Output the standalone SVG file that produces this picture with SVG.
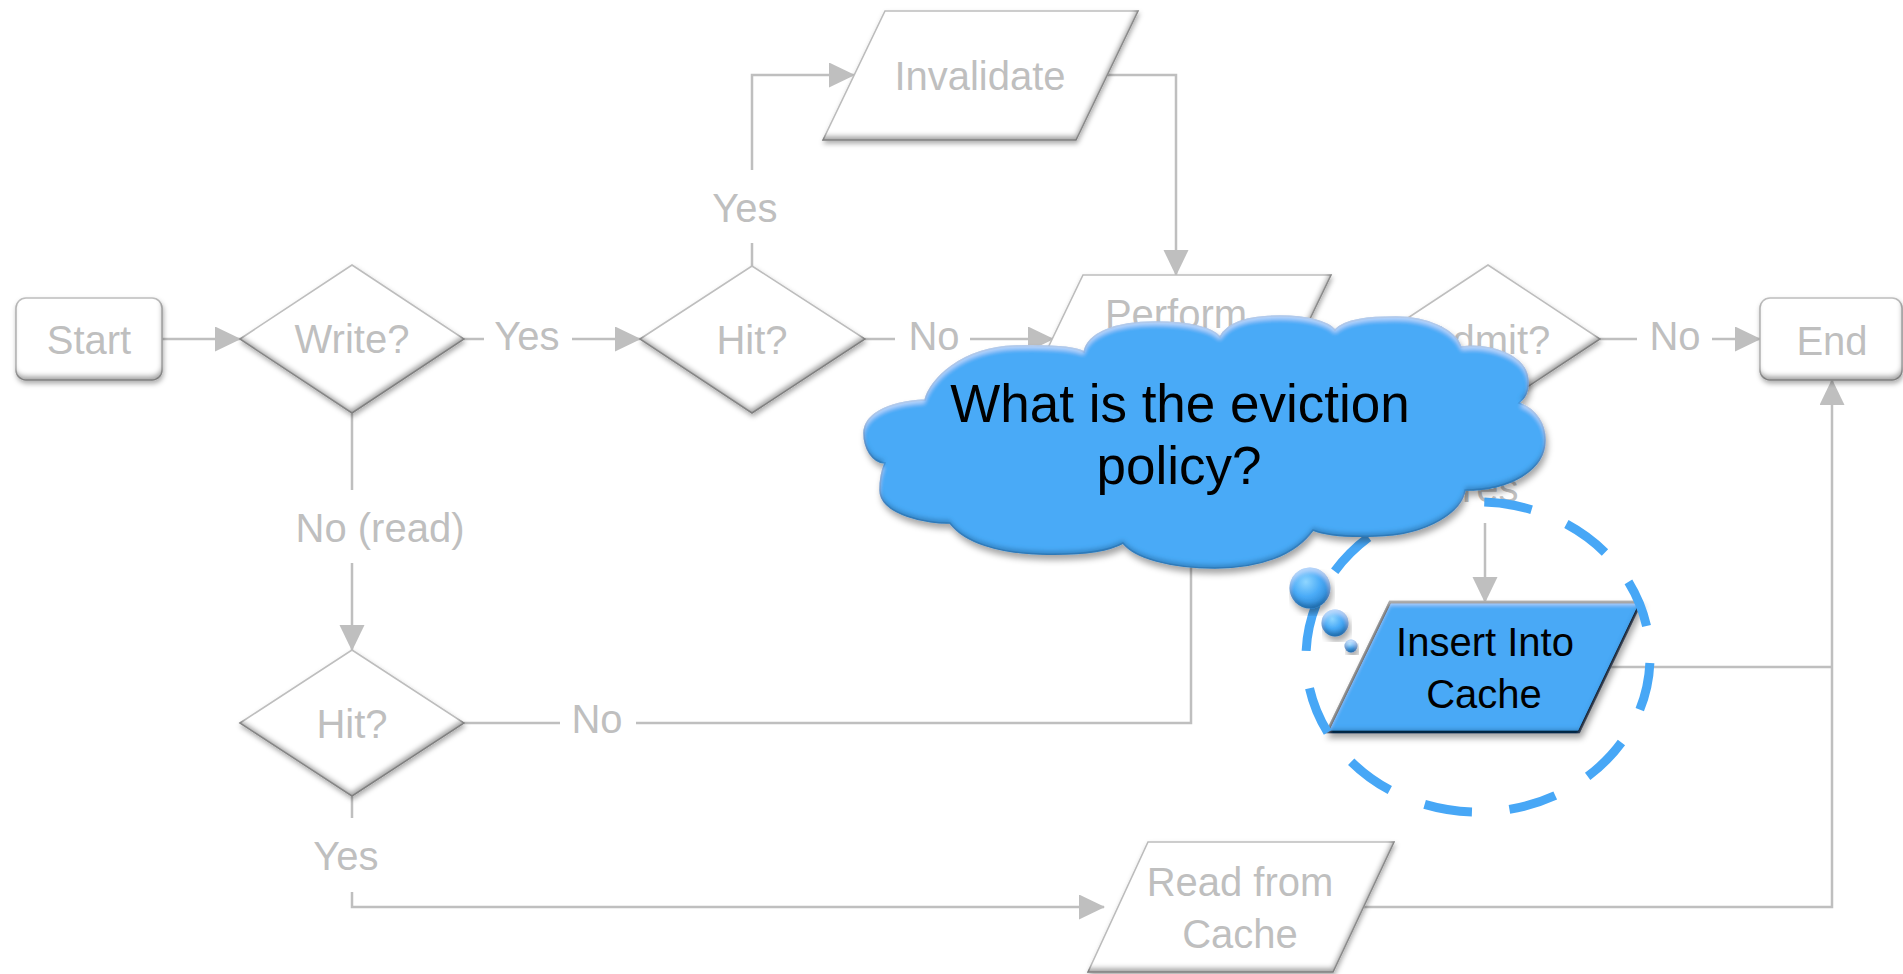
<svg xmlns="http://www.w3.org/2000/svg" width="1903" height="974" viewBox="0 0 1903 974">
  <defs>
    <style>
      .shape { fill: #ffffff; stroke: #BFBFBF; stroke-width: 1.5; filter: url(#grayBevel); }
      .lbl { font-family: "Liberation Sans", Arial, sans-serif; font-size: 40px; fill: #BFBFBF; text-anchor: middle; }
      .conn { fill: none; stroke: #BFBFBF; stroke-width: 2.5; }
      .dark { font-family: "Liberation Sans", Arial, sans-serif; fill: #000000; text-anchor: middle; }
    </style>
    <marker id="arr" markerUnits="userSpaceOnUse" markerWidth="26" markerHeight="26" refX="25" refY="12.5" orient="auto">
      <path d="M0,0 L26,12.5 L0,25 Z" fill="#BFBFBF"/>
    </marker>
    <!-- soft bevel for the grey flowchart shapes: dark inner rim at the bottom plus a drop shadow -->
    <filter id="grayBevel" x="-10%" y="-10%" width="125%" height="140%">
      <feGaussianBlur in="SourceAlpha" stdDeviation="2.5" result="blur"/>
      <feOffset in="blur" dx="-1" dy="-5" result="up"/>
      <feComposite in="SourceAlpha" in2="up" operator="out" result="rim"/>
      <feFlood flood-color="#000000" flood-opacity="0.62"/>
      <feComposite in2="rim" operator="in" result="shade"/>
      <feOffset in="blur" dx="1" dy="3" result="down"/>
      <feFlood flood-color="#000000" flood-opacity="0.32"/>
      <feComposite in2="down" operator="in" result="drop"/>
      <feMerge>
        <feMergeNode in="drop"/>
        <feMergeNode in="SourceGraphic"/>
        <feMergeNode in="shade"/>
      </feMerge>
    </filter>
    <!-- bevel for the blue shapes: light top rim, darker bottom rim, drop shadow -->
    <filter id="blueBevel" x="-5%" y="-8%" width="115%" height="125%">
      <feGaussianBlur in="SourceAlpha" stdDeviation="3" result="sb"/>
      <feOffset in="sb" dx="2" dy="5" result="so"/>
      <feFlood flood-color="#000000" flood-opacity="0.35"/>
      <feComposite in2="so" operator="in" result="shadow"/>
      <feGaussianBlur in="SourceAlpha" stdDeviation="2" result="hb"/>
      <feOffset in="hb" dx="0" dy="4" result="ho"/>
      <feComposite in="SourceAlpha" in2="ho" operator="out" result="hedge"/>
      <feFlood flood-color="#ffffff" flood-opacity="0.45"/>
      <feComposite in2="hedge" operator="in" result="hl"/>
      <feOffset in="hb" dx="0" dy="-4" result="bo"/>
      <feComposite in="SourceAlpha" in2="bo" operator="out" result="bedge"/>
      <feFlood flood-color="#0b3d6b" flood-opacity="0.45"/>
      <feComposite in2="bedge" operator="in" result="bs"/>
      <feMerge>
        <feMergeNode in="shadow"/>
        <feMergeNode in="SourceGraphic"/>
        <feMergeNode in="hl"/>
        <feMergeNode in="bs"/>
      </feMerge>
    </filter>
    <radialGradient id="bubbleFill" cx="0.4" cy="0.35" r="0.65">
      <stop offset="0" stop-color="#8fd6ff"/>
      <stop offset="0.55" stop-color="#4aabf7"/>
      <stop offset="1" stop-color="#2f86d0"/>
    </radialGradient>
  </defs>

  <!-- connectors -->
  <g id="connectors">
    <path class="conn" d="M162,339 H240" marker-end="url(#arr)"/>
    <path class="conn" d="M464,339 H484"/>
    <path class="conn" d="M572,339 H640" marker-end="url(#arr)"/>
    <path class="conn" d="M752,266 V243"/>
    <path class="conn" d="M752,170 V75 H854" marker-end="url(#arr)"/>
    <path class="conn" d="M1107,75 H1176 V275" marker-end="url(#arr)"/>
    <path class="conn" d="M865,339 H895"/>
    <path class="conn" d="M970,339 H1053" marker-end="url(#arr)"/>
    <path class="conn" d="M1600,339 H1637"/>
    <path class="conn" d="M1712,339 H1760" marker-end="url(#arr)"/>
    <path class="conn" d="M1485,523 V602" marker-end="url(#arr)"/>
    <path class="conn" d="M352,413 V490"/>
    <path class="conn" d="M352,563 V650" marker-end="url(#arr)"/>
    <path class="conn" d="M464,723 H560"/>
    <path class="conn" d="M636,723 H1191 V540"/>
    <path class="conn" d="M352,796 V818"/>
    <path class="conn" d="M352,892 V907 H1104" marker-end="url(#arr)"/>
    <path class="conn" d="M1364,907 H1832 V380" marker-end="url(#arr)"/>
    <path class="conn" d="M1610,667 H1832"/>
    <g id="edge-labels">
      <text class="lbl" x="527" y="350">Yes</text>
      <text class="lbl" x="745" y="222">Yes</text>
      <text class="lbl" x="934" y="350">No</text>
      <text class="lbl" x="1675" y="350">No</text>
      <text class="lbl" x="1486" y="502">Yes</text>
      <text class="lbl" x="380" y="542">No (read)</text>
      <text class="lbl" x="597" y="733">No</text>
      <text class="lbl" x="346" y="870">Yes</text>
    </g>
  </g>

  <g id="start">
    <rect class="shape" x="16" y="298" width="146" height="82" rx="10"/>
    <text class="lbl" x="89" y="354">Start</text>
  </g>
  <g id="write">
    <path class="shape" d="M240,339 L352,265 L464,339 L352,413 Z"/>
    <text class="lbl" x="352" y="353">Write?</text>
  </g>
  <g id="hit-write">
    <path class="shape" d="M640,339 L752,266 L865,339 L752,413 Z"/>
    <text class="lbl" x="752" y="354">Hit?</text>
  </g>
  <g id="invalidate">
    <path class="shape" d="M885,11 L1138,11 L1076,140 L823,140 Z"/>
    <text class="lbl" x="980" y="90">Invalidate</text>
  </g>
  <g id="perform">
    <path class="shape" d="M1083,275 L1331,275 L1269,404 L1021,404 Z"/>
    <text class="lbl" x="1176" y="328">Perform</text>
  </g>
  <g id="admit">
    <path class="shape" d="M1376,339 L1488,265 L1600,339 L1488,413 Z"/>
    <text class="lbl" x="1488" y="354">Admit?</text>
  </g>
  <g id="end">
    <rect class="shape" x="1760" y="298" width="142" height="82" rx="10"/>
    <text class="lbl" x="1832" y="355">End</text>
  </g>
  <g id="hit-read">
    <path class="shape" d="M240,723 L352,650 L464,723 L352,796 Z"/>
    <text class="lbl" x="352" y="738">Hit?</text>
  </g>
  <g id="read-from-cache">
    <path class="shape" d="M1148,842 L1394,842 L1333,972 L1088,972 Z"/>
    <text class="lbl" x="1240" y="896">Read from</text>
    <text class="lbl" x="1240" y="948">Cache</text>
  </g>

  <g id="insert-into-cache">
    <path d="M1390,602 L1641,602 L1579,732 L1327,732 Z" fill="#48A9F6" stroke="#000000" stroke-width="2.5" stroke-linejoin="miter" filter="url(#blueBevel)"/>
    <text class="dark" x="1485" y="656" font-size="40">Insert Into</text>
    <text class="dark" x="1484" y="708" font-size="40">Cache</text>
  </g>

  <!-- dashed highlight ring round the insert step -->
  <g id="highlight-ring">
    <ellipse cx="1478" cy="657" rx="172" ry="155" fill="none" stroke="#47A7F6" stroke-width="9" stroke-dasharray="48 37.67" stroke-dashoffset="-6"/>
  </g>

  <!-- thought cloud with its trailing bubbles -->
  <g id="eviction-cloud">
    <path d="M885,463 C872,462 864,448 864,433 C864,416 885,402 925,400 C930,380 960,348 1015,346 C1050,345 1075,347 1084,352 C1088,333 1115,322 1155,322 C1190,322 1213,328 1220,337 C1228,322 1250,316 1280,316 C1308,316 1328,322 1335,330 C1345,319 1370,317 1396,317 C1428,317 1455,330 1461,347 C1490,343 1526,355 1528,380 C1529,392 1525,398 1519,403 C1537,410 1545,425 1545,440 C1545,470 1510,490 1465,490 C1462,510 1430,535 1375,536 C1345,537 1325,535 1313,530 C1295,555 1260,568 1215,568 C1170,568 1135,558 1123,543 C1105,553 1075,555 1040,554 C1000,553 965,543 950,523 C930,524 880,515 880,490 C880,478 882,470 885,463 Z" fill="#48AAF7" stroke="#3F95DD" stroke-width="1.5" filter="url(#blueBevel)"/>
    <circle cx="1310" cy="588" r="20.5" fill="url(#bubbleFill)" filter="url(#blueBevel)"/>
    <circle cx="1335" cy="623" r="13.5" fill="url(#bubbleFill)" filter="url(#blueBevel)"/>
    <circle cx="1351" cy="646" r="6.5" fill="url(#bubbleFill)" filter="url(#blueBevel)"/>
    <text class="dark" x="1180" y="422" font-size="53">What is the eviction</text>
    <text class="dark" x="1179" y="484" font-size="53">policy?</text>
  </g>
</svg>
